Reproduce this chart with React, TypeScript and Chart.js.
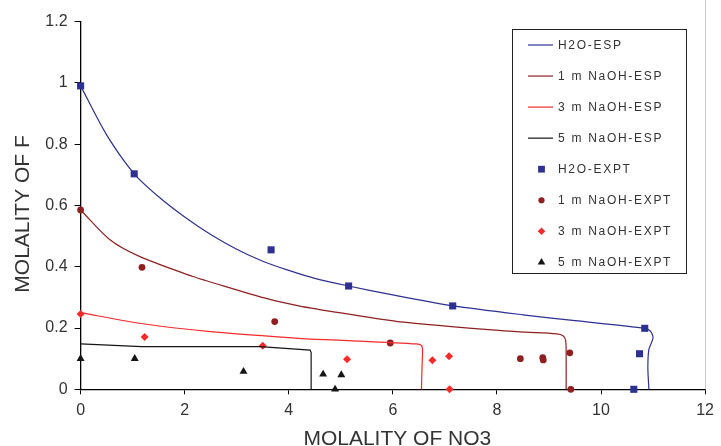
import React, { useEffect, useRef } from 'react';
import { Chart, registerables } from 'chart.js';

Chart.register(...registerables);

// ---- axis ticks / titles ----
const xTickValues = [0, 2, 4, 6, 8, 10, 12];
const yTickValues = [0, 0.2, 0.4, 0.6, 0.8, 1, 1.2];
const xAxisTitle = 'MOLALITY OF NO3';
const yAxisTitle = 'MOLALITY OF F';

// ---- series labels ----
const seriesLabels = [
  'H2O-ESP',
  '1 m NaOH-ESP',
  '3 m NaOH-ESP',
  '5 m NaOH-ESP',
  'H2O-EXPT',
  '1 m NaOH-EXPT',
  '3 m NaOH-EXPT',
  '5 m NaOH-EXPT',
];

// ---- ESP (model) curves ----
const h2oEspX = [0, 0.5, 1.03, 1.5, 2.0, 2.5, 3.0, 3.5, 4.0, 4.5, 5.15, 6.0, 7.17, 8.5, 9.5, 10.84, 10.95, 11.0, 10.92, 10.9, 10.92];
const h2oEspY = [0.99, 0.83, 0.703, 0.628, 0.562, 0.505, 0.457, 0.418, 0.388, 0.362, 0.337, 0.308, 0.272, 0.243, 0.224, 0.199, 0.19, 0.168, 0.13, 0.07, 0];

const naoh1EspX = [0, 0.57, 1.14, 2.16, 2.48, 3.62, 4.19, 4.57, 6.1, 8.38, 9.15, 9.27, 9.32, 9.33, 9.33];
const naoh1EspY = [0.585, 0.487, 0.433, 0.368, 0.351, 0.294, 0.272, 0.261, 0.221, 0.188, 0.181, 0.175, 0.16, 0.1, 0];

const naoh3EspX = [0, 1.23, 2.5, 4.19, 4.53, 5.14, 6.45, 6.55, 6.57, 6.56, 6.55];
const naoh3EspY = [0.25, 0.213, 0.188, 0.166, 0.163, 0.159, 0.148, 0.143, 0.13, 0.07, 0];

const naoh5EspX = [0, 1.17, 3.45, 4.41, 4.43, 4.43];
const naoh5EspY = [0.148, 0.139, 0.139, 0.128, 0.12, 0];

// ---- EXPT (measured) points ----
const h2oExptX = [0, 1.03, 3.66, 5.15, 7.15, 10.84, 10.74, 10.63];
const h2oExptY = [0.99, 0.703, 0.455, 0.337, 0.272, 0.199, 0.116, 0];

const naoh1ExptX = [0, 1.18, 3.73, 5.95, 8.45, 8.88, 8.89, 9.4, 9.42];
const naoh1ExptY = [0.585, 0.398, 0.221, 0.151, 0.1, 0.103, 0.096, 0.119, 0];

const naoh3ExptX = [0, 1.23, 3.5, 5.12, 6.76, 7.08, 7.09];
const naoh3ExptY = [0.246, 0.171, 0.142, 0.098, 0.095, 0.108, 0];

const naoh5ExptX = [0, 1.04, 3.13, 4.66, 5.01, 4.89];
const naoh5ExptY = [0.1, 0.1, 0.058, 0.049, 0.047, 0];

// ---- colours ----
const BLUE = '#2D3192';
const DARKRED = '#8E2020';
const RED = '#F52A2A';
const BLACK = '#151515';
const TEXT = '#333333';
const FONT = '"Liberation Sans", Arial, sans-serif';

const pts = (xs: number[], ys: number[]) => xs.map((x, i) => ({ x, y: ys[i] }));

function drawMarker(ctx: CanvasRenderingContext2D, style: string, x: number, y: number, r: number, color: string) {
  ctx.fillStyle = color;
  ctx.beginPath();
  if (style === 'rect') {
    const s = Math.SQRT1_2 * r;
    ctx.rect(x - s, y - s, 2 * s, 2 * s);
  } else if (style === 'circle') {
    ctx.arc(x, y, r, 0, Math.PI * 2);
  } else if (style === 'rectRot') {
    ctx.moveTo(x, y - r);
    ctx.lineTo(x + r, y);
    ctx.lineTo(x, y + r);
    ctx.lineTo(x - r, y);
    ctx.closePath();
  } else if (style === 'triangle') {
    ctx.moveTo(x, y - r);
    ctx.lineTo(x + 0.866 * r, y + 0.5 * r);
    ctx.lineTo(x - 0.866 * r, y + 0.5 * r);
    ctx.closePath();
  }
  ctx.fill();
}

const decorPlugin = {
  id: 'decor',
  beforeDatasetsDraw(chart: any) {
    const { ctx, chartArea } = chart;
    ctx.save();
    ctx.strokeStyle = '#c8c8c8';
    ctx.lineWidth = 1;
    ctx.beginPath();
    ctx.moveTo(Math.round(chartArea.right) + 0.5, 0);
    ctx.lineTo(Math.round(chartArea.right) + 0.5, chartArea.bottom);
    ctx.stroke();
    ctx.restore();
  },
  afterDraw(chart: any) {
    const { ctx, chartArea } = chart;
    ctx.save();
    // axis titles
    ctx.fillStyle = TEXT;
    ctx.font = `21px ${FONT}`;
    ctx.textAlign = 'center';
    ctx.textBaseline = 'alphabetic';
    ctx.fillText(xAxisTitle, (chartArea.left + chartArea.right) / 2 + 4.5, 444.5);
    ctx.save();
    ctx.translate(28.5, (chartArea.top + chartArea.bottom) / 2 + 8.5);
    ctx.rotate(-Math.PI / 2);
    ctx.fillText(yAxisTitle, 0, 0);
    ctx.restore();

    // legend box
    const bx = 512.5, by = 29.5, bw = 174, bh = 244;
    ctx.fillStyle = '#ffffff';
    ctx.fillRect(bx, by, bw, bh);
    ctx.strokeStyle = '#222222';
    ctx.lineWidth = 1;
    ctx.strokeRect(bx, by, bw, bh);
    chart.data.datasets.forEach((ds: any, i: number) => {
      const y = 45 + i * 31.05;
      if (ds.showLine) {
        ctx.strokeStyle = ds.borderColor;
        ctx.lineWidth = 1.2;
        ctx.beginPath();
        ctx.moveTo(528, y);
        ctx.lineTo(553, y);
        ctx.stroke();
      } else {
        drawMarker(ctx, ds.pointStyle, 541.5, y, ds.legendRadius, ds.backgroundColor);
      }
      ctx.fillStyle = TEXT;
      ctx.font = `12px ${FONT}`;
      (ctx as any).letterSpacing = '1.7px';
      ctx.textAlign = 'left';
      ctx.textBaseline = 'middle';
      ctx.fillText(ds.label, 558, y + 0.5);
      (ctx as any).letterSpacing = '0px';
    });
    ctx.restore();
  },
};

function lineDs(label: string, xs: number[], ys: number[], color: string, tension: number) {
  return {
    label,
    data: pts(xs, ys),
    showLine: true,
    borderColor: color,
    backgroundColor: color,
    borderWidth: 1.2,
    pointRadius: 0,
    pointHoverRadius: 0,
    tension,
    fill: false,
    clip: false,
  };
}

function pointDs(label: string, xs: number[], ys: number[], color: string, style: string, r: number, legendR: number) {
  return {
    label,
    data: pts(xs, ys),
    showLine: false,
    borderColor: color,
    backgroundColor: color,
    pointStyle: style,
    pointRadius: r,
    pointBorderWidth: 0,
    pointBackgroundColor: color,
    legendRadius: legendR,
    clip: false,
  };
}

export default function App() {
  const ref = useRef<HTMLCanvasElement | null>(null);

  useEffect(() => {
    if (!ref.current) return;
    const chart = new Chart(ref.current, {
      type: 'scatter',
      data: {
        datasets: [
          lineDs(seriesLabels[0], h2oEspX, h2oEspY, BLUE, 0.25),
          lineDs(seriesLabels[1], naoh1EspX, naoh1EspY, DARKRED, 0.3),
          lineDs(seriesLabels[2], naoh3EspX, naoh3EspY, RED, 0.25),
          lineDs(seriesLabels[3], naoh5EspX, naoh5EspY, BLACK, 0),
          pointDs(seriesLabels[4], h2oExptX, h2oExptY, BLUE, 'rect', 5, 4.8),
          pointDs(seriesLabels[5], naoh1ExptX, naoh1ExptY, DARKRED, 'circle', 3.4, 3.1),
          pointDs(seriesLabels[6], naoh3ExptX, naoh3ExptY, RED, 'rectRot', 4, 3.8),
          pointDs(seriesLabels[7], naoh5ExptX, naoh5ExptY, BLACK, 'triangle', 4.6, 4.4),
        ] as any,
      },
      options: {
        animation: false,
        responsive: false,
        maintainAspectRatio: false,
        events: [],
        layout: { padding: { left: 0, top: 21.5, right: 10.3, bottom: 0 } },
        plugins: {
          legend: { display: false },
          tooltip: { enabled: false },
          title: { display: false },
        },
        scales: {
          x: {
            type: 'linear',
            min: 0,
            max: 12,
            afterFit: (s: any) => { s.height = 56.7; },
            afterBuildTicks: (s: any) => { s.ticks = xTickValues.map((v) => ({ value: v })); },
            grid: { drawOnChartArea: false, drawTicks: true, tickLength: 5, color: '#000', lineWidth: 1 },
            border: { display: true, color: '#000', width: 1.3 },
            ticks: {
              color: TEXT,
              font: { family: FONT, size: 16 },
              padding: 7,
              maxRotation: 0,
              callback: (v: any) => String(v),
            },
          },
          y: {
            type: 'linear',
            min: 0,
            max: 1.2,
            afterFit: (s: any) => { s.width = 80.6; },
            afterBuildTicks: (s: any) => { s.ticks = yTickValues.map((v) => ({ value: v })); },
            grid: { drawOnChartArea: false, drawTicks: true, tickLength: 6, color: '#000', lineWidth: 1 },
            border: { display: true, color: '#000', width: 1.3 },
            ticks: {
              color: TEXT,
              font: { family: FONT, size: 16 },
              padding: 7,
              callback: (v: any) => String(parseFloat(Number(v).toFixed(1))),
            },
          },
        },
      } as any,
      plugins: [decorPlugin],
    });
    return () => chart.destroy();
  }, []);

  return (
    <div style={{ position: 'fixed', left: 0, top: 0, width: 721, height: 446, background: '#fff' }}>
      <canvas ref={ref} width={721} height={446} style={{ display: 'block', width: 721, height: 446 }} />
    </div>
  );
}
